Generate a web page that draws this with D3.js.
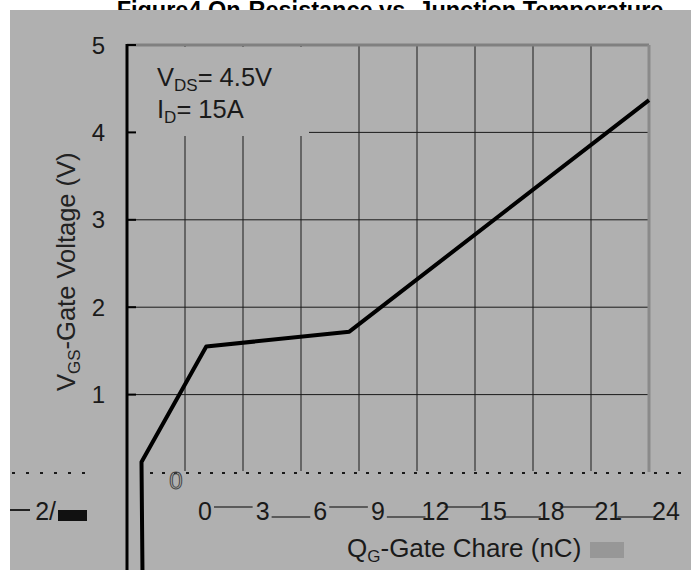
<!DOCTYPE html>
<html>
<head>
<meta charset="utf-8">
<script src="https://cdn.jsdelivr.net/npm/d3@7/dist/d3.min.js"></script>
<style>
body { margin: 0; background: #fff; }
text { font-family: "Liberation Sans", Arial, sans-serif; }
</style>
</head>
<body>
<div class="chart"></div>
<script>
// values
var qTicks = [0, 3, 6, 9, 12, 15, 18, 21, 24];
var vTicks = [1, 2, 3, 4, 5];
var gateCharge = [0.8, 0.75, 4.1, 11.5, 27];
var gateVoltage = [-1.02, 0.23, 1.55, 1.72, 4.37];

function gatechart() {
var width = 696;
var height = 570;
var svg = d3.select(".chart").append("svg")
    .attr("width", width)
    .attr("height", height);

var x = d3.scaleLinear().domain([0, 27]).range([127, 649]);
var y = d3.scaleLinear().domain([0, 5]).range([482, 45]);
// tick labels in the bottom row sit off the grid
var xLab = d3.scalePoint().domain(qTicks).range([205, 666]);

// title, mostly hidden by the plot panel
svg.append("text")
    .attr("x", 390).attr("y", 18)
    .attr("text-anchor", "middle")
    .style("font-size", "23.5px").style("font-weight", "bold")
    .text("Figure4.On-Resistance vs. Junction Temperature");

svg.append("rect")
    .attr("x", 10).attr("y", 10)
    .attr("width", 681).attr("height", 560)
    .attr("fill", "#b0b0b0");

var g = svg.append("g");

// grid
g.selectAll(".vgrid")
    .data(qTicks.slice(1))
    .enter().append("line")
      .attr("class", "vgrid")
      .attr("x1", function(d) { return x(d); })
      .attr("x2", function(d) { return x(d); })
      .attr("y1", y(5)).attr("y2", 471)
      .attr("stroke", "#1a1a1a").attr("stroke-width", 1);

g.selectAll(".hgrid")
    .data(vTicks.slice(0, 4))
    .enter().append("line")
      .attr("class", "hgrid")
      .attr("x1", x(0)).attr("x2", x(27))
      .attr("y1", function(d) { return y(d); })
      .attr("y2", function(d) { return y(d); })
      .attr("stroke", "#1a1a1a").attr("stroke-width", 1);

// legend box hides the grid behind it
g.append("rect")
    .attr("x", 129).attr("y", 47)
    .attr("width", 180).attr("height", 89)
    .attr("fill", "#b0b0b0");

// frame
g.append("line")
    .attr("x1", x(0)).attr("x2", x(27))
    .attr("y1", y(5)).attr("y2", y(5))
    .attr("stroke", "#808080").attr("stroke-width", 3);
g.append("line")
    .attr("x1", x(27)).attr("x2", x(27))
    .attr("y1", y(5)).attr("y2", 472)
    .attr("stroke", "#8a8a8a").attr("stroke-width", 3);

// y axis
g.append("line")
    .attr("x1", x(0)).attr("x2", x(0))
    .attr("y1", y(5) - 1).attr("y2", 570)
    .attr("stroke", "#000").attr("stroke-width", 3);

g.selectAll(".ytick")
    .data(vTicks)
    .enter().append("line")
      .attr("class", "ytick")
      .attr("x1", x(0)).attr("x2", x(0) + 9)
      .attr("y1", function(d) { return y(d); })
      .attr("y2", function(d) { return y(d); })
      .attr("stroke", "#000").attr("stroke-width", 2);

g.selectAll(".ylab")
    .data(vTicks)
    .enter().append("text")
      .attr("class", "ylab")
      .attr("x", 105)
      .attr("y", function(d) { return y(d); })
      .attr("dy", "0.36em")
      .attr("text-anchor", "end")
      .attr("fill", "#1a1a1a")
      .style("font-size", "24px")
      .text(function(d) { return d; });

var yt = g.append("text")
    .attr("transform", "translate(75,391) rotate(-90)")
    .attr("fill", "#222")
    .style("font-size", "25.5px");
yt.append("tspan").text("V");
yt.append("tspan").attr("dy", 5).style("font-size", "17px").text("GS");
yt.append("tspan").attr("dy", -5).text("-Gate Voltage (V)");

// annotation
var a1 = g.append("text").attr("x", 157).attr("y", 86)
    .attr("fill", "#1a1a1a").style("font-size", "25.5px");
a1.append("tspan").text("V");
a1.append("tspan").attr("dy", 5).style("font-size", "17px").text("DS");
a1.append("tspan").attr("dy", -5).text("= 4.5V");
var a2 = g.append("text").attr("x", 157).attr("y", 118)
    .attr("fill", "#1a1a1a").style("font-size", "25.5px");
a2.append("tspan").text("I");
a2.append("tspan").attr("dy", 5).style("font-size", "17px").text("D");
a2.append("tspan").attr("dy", -5).text("= 15A");

// broken bottom axis
g.append("line")
    .attr("x1", 150).attr("x2", 690)
    .attr("y1", 473).attr("y2", 473)
    .attr("stroke", "#1a1a1a").attr("stroke-width", 2)
    .attr("stroke-dasharray", "3,9");
g.append("line")
    .attr("x1", 12).attr("x2", 85)
    .attr("y1", 473).attr("y2", 473)
    .attr("stroke", "#1a1a1a").attr("stroke-width", 2)
    .attr("stroke-dasharray", "3,11");

// streaks between tick labels
g.selectAll(".streak")
    .data(qTicks.slice(0, -1))
    .enter().append("line")
      .attr("class", "streak")
      .attr("x1", function(d) { return xLab(d) + 9; })
      .attr("x2", function(d) { return xLab(d + 3) - 10; })
      .attr("y1", function(d, i) { return i % 2 ? 517 : 507; })
      .attr("y2", function(d, i) { return i % 2 ? 517 : 507; })
      .attr("stroke", "#222").attr("stroke-width", 1.5)
      .attr("opacity", 0.8);

g.selectAll(".xlab")
    .data(qTicks)
    .enter().append("text")
      .attr("class", "xlab")
      .attr("x", function(d) { return xLab(d); })
      .attr("y", 520)
      .attr("text-anchor", "middle")
      .attr("fill", "#1a1a1a")
      .style("font-size", "25px")
      .text(function(d) { return d; });

g.append("text")
    .attr("x", 176).attr("y", 489)
    .attr("text-anchor", "middle")
    .attr("fill", "none").attr("stroke", "#444").attr("stroke-width", 1)
    .style("font-size", "24px")
    .text("0");

g.append("line")
    .attr("x1", 10).attr("x2", 30)
    .attr("y1", 510).attr("y2", 510)
    .attr("stroke", "#222").attr("stroke-width", 2);
g.append("text")
    .attr("x", 56).attr("y", 520)
    .attr("text-anchor", "end")
    .attr("fill", "#1a1a1a")
    .style("font-size", "25px")
    .text("2/");
g.append("rect")
    .attr("x", 58).attr("y", 510)
    .attr("width", 29).attr("height", 11)
    .attr("fill", "#111");

// x title
var xt = g.append("text").attr("x", 347).attr("y", 557)
    .attr("fill", "#1a1a1a").style("font-size", "26px");
xt.append("tspan").text("Q");
xt.append("tspan").attr("dy", 5).style("font-size", "17px").text("G");
xt.append("tspan").attr("dy", -5).text("-Gate Chare (nC)");
g.append("rect")
    .attr("x", 590).attr("y", 542)
    .attr("width", 34).attr("height", 16)
    .attr("fill", "#979797");

// curve
var line = d3.line()
    .x(function(d) { return x(d[0]); })
    .y(function(d) { return y(d[1]); });

g.append("path")
    .datum(d3.zip(gateCharge, gateVoltage))
    .attr("fill", "none")
    .attr("stroke", "#000")
    .attr("stroke-width", 4)
    .attr("stroke-linejoin", "round")
    .attr("d", line);
}
gatechart();
</script>
</body>
</html>
